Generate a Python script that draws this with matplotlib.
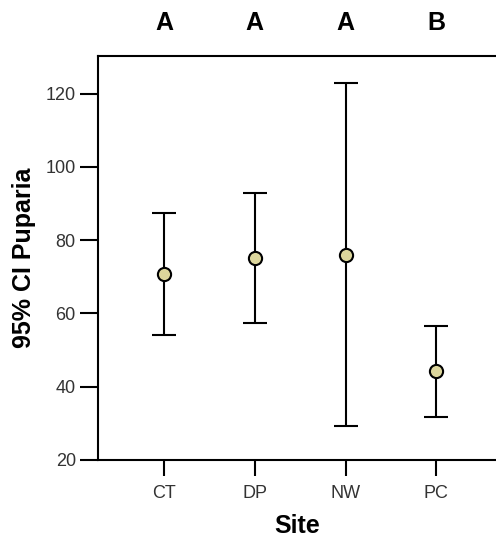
import matplotlib
matplotlib.use("Agg")
import matplotlib.pyplot as plt
import numpy as np

# --- Data ---
sites = ["CT", "DP", "NW", "PC"]
means = [70.7, 75.0, 76.0, 44.3]
upper = [87.5, 93.0, 123.0, 56.6]
lower = [54.0, 57.3, 29.3, 31.8]
groups = ["A", "A", "A", "B"]

plt.rcParams["font.family"] = ["Liberation Sans", "DejaVu Sans"]

fig = plt.figure(figsize=(4.96, 5.40), dpi=100)
ax = fig.add_axes([0.1976, 0.1487, 0.8024, 0.7476])

x = np.arange(len(sites))
m = np.array(means)
yerr = [m - np.array(lower), np.array(upper) - m]
ax.errorbar(x, m, yerr=yerr, fmt="o", color="black", ecolor="black",
            elinewidth=1.5, capsize=8.5, capthick=1.5,
            markersize=9.5, markerfacecolor="#dcd69c", markeredgecolor="black",
            markeredgewidth=1.5)

ax.set_xlim(-0.73, 3.66)
ax.set_ylim(20, 130.3)
ax.set_xticks(x)
ax.set_xticklabels(sites)
ax.set_yticks([20, 40, 60, 80, 100, 120])

for s in ["top", "left", "bottom"]:
    ax.spines[s].set_linewidth(1.5)
ax.spines["right"].set_visible(False)
ax.tick_params(axis="both", width=1.5, colors="black")
ax.tick_params(axis="x", length=11.5, pad=7, labelsize=13, labelcolor="#333333")
ax.tick_params(axis="y", length=13, pad=3, labelsize=13, labelcolor="#333333")

ax.set_xlabel("Site", fontsize=18, fontweight="bold", labelpad=8)
ax.set_ylabel("95% CI Puparia", fontsize=18, fontweight="bold", labelpad=7)

# group letters above the plot
for xi, g in zip(x, groups):
    ax.annotate(g, xy=(xi, 1), xycoords=("data", "axes fraction"),
                xytext=(0, 24), textcoords="offset points",
                ha="center", va="center", fontsize=18, fontweight="heavy")

fig.savefig("out.png", dpi=100)
